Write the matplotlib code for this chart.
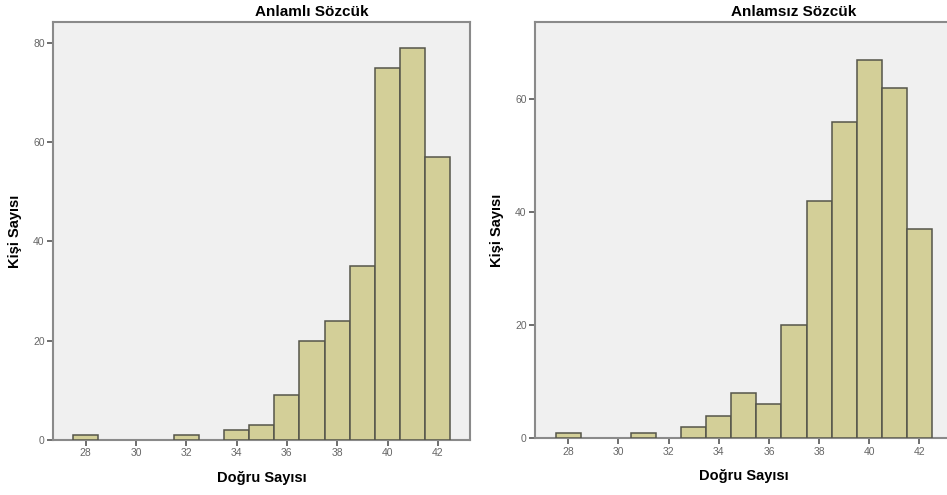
import matplotlib
import matplotlib.pyplot as plt

matplotlib.use("Agg")

plt.rcParams["font.family"] = ["Liberation Sans", "DejaVu Sans"]

# Histogram counts per "Doğru Sayısı" score
anlamli_scores = [28, 32, 34, 35, 36, 37, 38, 39, 40, 41, 42]
anlamli_counts = [1, 1, 2, 3, 9, 20, 24, 35, 75, 79, 57]

anlamsiz_scores = [28, 31, 33, 34, 35, 36, 37, 38, 39, 40, 41, 42]
anlamsiz_counts = [1, 1, 2, 4, 8, 6, 20, 42, 56, 67, 62, 37]

x_ticks = [28, 30, 32, 34, 36, 38, 40, 42]
left_yticks = [0, 20, 40, 60, 80]
right_yticks = [0, 20, 40, 60]

BAR_FILL = "#d3cf98"
BAR_EDGE = "#55554a"
PANEL_BG = "#f0f0f0"
SPINE = "#8a8a8a"

W, H = 947, 495
fig = plt.figure(figsize=(W / 100, H / 100), dpi=100)


def px_axes(x0, x1, ytop, ybot):
    return fig.add_axes([x0 / W, 1 - ybot / H, (x1 - x0) / W, (ybot - ytop) / H])


def style(ax, scores, counts, xlim, ylim, yticks):
    ax.set_facecolor(PANEL_BG)
    ax.bar(scores, counts, width=1.0, color=BAR_FILL, edgecolor=BAR_EDGE,
           linewidth=1.1, zorder=3)
    ax.set_xlim(*xlim)
    ax.set_ylim(*ylim)
    ax.set_xticks(x_ticks)
    ax.set_yticks(yticks)
    for s in ax.spines.values():
        s.set_color(SPINE)
        s.set_linewidth(1.5)
    ax.tick_params(axis="both", direction="out", length=4, width=1.2,
                   color="#555555", labelsize=7.5, labelcolor="#666666", pad=2)
    ax.set_xlabel("Doğru Sayısı", fontsize=10.5, fontweight="bold", labelpad=9)
    ax.set_ylabel("Kişi Sayısı", fontsize=10.5, fontweight="bold", labelpad=8)


ax1 = px_axes(53, 470, 22, 440)
style(ax1, anlamli_scores, anlamli_counts, (26.70, 43.28), (0, 84.2), left_yticks)

ax2 = px_axes(535, 953, 22, 438.3)
style(ax2, anlamsiz_scores, anlamsiz_counts, (26.67, 43.34), (0, 73.7), right_yticks)

fig.text(312 / W, 1 - 12.5 / H, "Anlamlı Sözcük", ha="center", va="center",
         fontsize=11, fontweight="bold")
fig.text(794 / W, 1 - 12.5 / H, "Anlamsız Sözcük", ha="center", va="center",
         fontsize=11, fontweight="bold")

fig.savefig("out.png", dpi=100, facecolor="white")
